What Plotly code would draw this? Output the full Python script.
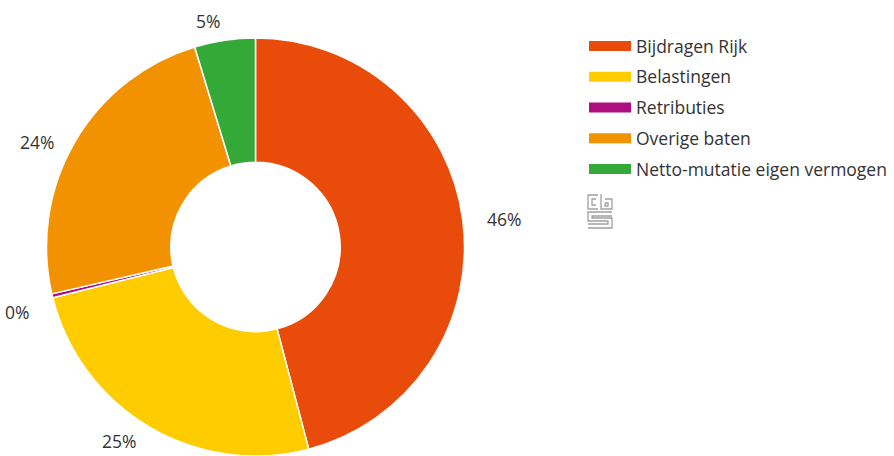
import math
import plotly.graph_objects as go

W, H = 894, 456

categories = ["Bijdragen Rijk", "Belastingen", "Retributies", "Overige baten",
              "Netto-mutatie eigen vermogen"]
values = [45.9, 25.2, 0.3, 23.9, 4.7]
colors = ["#E94C0A", "#FFCC00", "#AF0E80", "#F39200", "#35A937"]

FONT = "Open Sans, Lato, sans-serif"
TXT = "#333333"

# pie geometry (pixels)
CX, CY, R = 255.5, 247.0, 209.0

fig = go.Figure()
fig.add_trace(go.Pie(
    labels=categories,
    values=values,
    sort=False,
    direction="clockwise",
    rotation=0,
    hole=0.405,
    marker=dict(colors=colors, line=dict(color="white", width=1.5)),
    textinfo="none",
    showlegend=False,
    domain=dict(x=[(CX - R) / W, (CX + R) / W], y=[0, 2 * R / H]),
    hoverinfo="label+percent",
))

# legend entries (one per category)
for name, col in zip(categories, colors):
    fig.add_trace(go.Scatter(
        x=[None], y=[None], mode="lines", name=name,
        legendgroup=name,
        line=dict(color=col, width=17),
        hoverinfo="skip",
    ))

# percentage labels outside the ring, placed along each slice's mid-angle
total = sum(values)
annotations = []
cum = 0.0
RL = R + 22
for v in values:
    mid = (cum + v / 2) / total
    cum += v
    th = 2 * math.pi * mid
    dx, dy = math.sin(th), -math.cos(th)
    x = CX + RL * dx
    y = CY + RL * dy
    if dx < -0.2:
        y += 11  # left-hand labels sit a little lower
    else:
        y += 2
    y = min(y, H - 15)
    if dx > 0.1:
        xa = "left"
    elif dx < -0.1:
        xa = "right"
    else:
        xa = "center"
    annotations.append(dict(
        x=x / W, y=1 - y / H, xref="paper", yref="paper",
        text=f"{round(100 * v / total)}%", showarrow=False,
        xanchor=xa, yanchor="middle",
        font=dict(family=FONT, size=17.5, color=TXT),
    ))


def px(x):
    return x / W


def py(y):
    return 1 - y / H


# CBS logo (decorative), drawn as outline paths
logo_col = "#a0a0a0"
paths = [
    [(598, 195), (588, 195), (588, 209), (598, 209)],
    [(596, 199), (592, 199), (592, 205), (596, 205)],
    [(601, 194), (601, 209), (612, 209), (612, 199), (605, 199)],
    [(605, 203), (608, 203), (608, 206), (605, 206), (605, 203)],
    [(612, 212), (588, 212), (588, 221), (608, 221), (608, 224), (588, 224)],
    [(612, 216), (592, 216), (592, 218), (612, 218), (612, 228), (588, 228)],
]
shapes = []
for p in paths:
    d = "M " + " L ".join(f"{px(x):.5f},{py(y):.5f}" for x, y in p)
    shapes.append(dict(type="path", xref="paper", yref="paper", path=d,
                       line=dict(color=logo_col, width=1.3)))

fig.update_layout(
    width=W, height=H,
    margin=dict(l=0, r=0, t=0, b=0),
    paper_bgcolor="white",
    plot_bgcolor="white",
    font=dict(family=FONT, size=17.5, color=TXT),
    xaxis=dict(visible=False, domain=[0.99, 1]),
    yaxis=dict(visible=False, domain=[0.99, 1]),
    showlegend=True,
    legend=dict(
        x=584 / W, y=1 - 28 / H, xanchor="left", yanchor="top",
        font=dict(family=FONT, size=17.5, color=TXT),
        tracegroupgap=5,
        itemwidth=42,
        bgcolor="rgba(0,0,0,0)",
    ),
    shapes=shapes,
    annotations=annotations,
)

fig.write_html("out.html", config={"displayModeBar": False},
               post_script="document.body.style.margin='0';")
